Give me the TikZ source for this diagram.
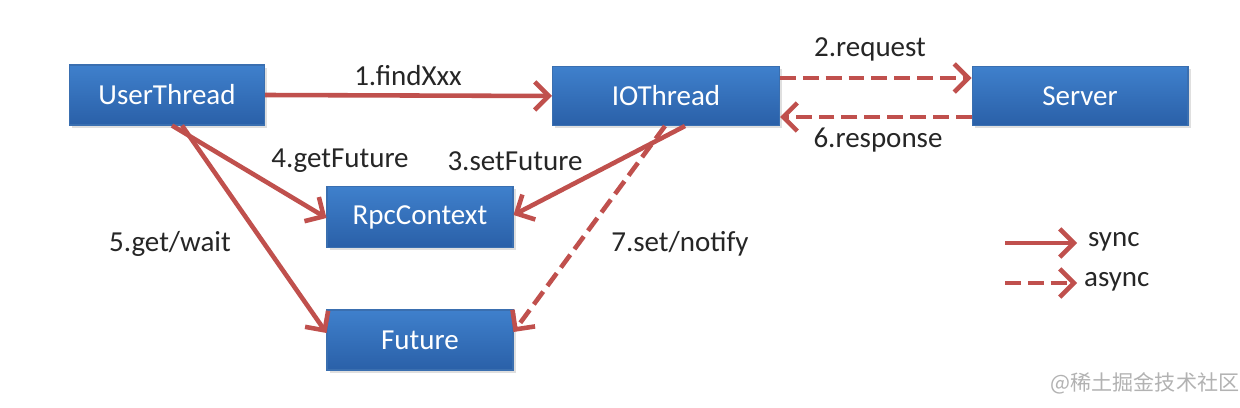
\documentclass[tikz,border=0pt]{standalone}
\usepackage{fontspec}
\setmainfont{Carlito}
\newfontfamily\cjk{Noto Sans CJK SC}
\usetikzlibrary{arrows.meta,shadows}

\definecolor{boxtop}{HTML}{3F80CC}
\definecolor{boxbot}{HTML}{2A60A8}
\definecolor{boxline}{HTML}{3A6FB0}
\definecolor{arrowred}{HTML}{C0504D}
\definecolor{labelgray}{HTML}{262626}

\tikzset{
  thread/.style={draw=boxline,line width=0.6pt,top color=boxtop,bottom color=boxbot,
    text=white,font=\fontsize{16.5}{18}\selectfont,inner sep=0pt,
    drop shadow={opacity=0.25,shadow xshift=1.5pt,shadow yshift=-1.5pt}},
  sync/.style={draw=arrowred,line width=2.6pt,-{Straight Barb[length=8pt,width=16pt,line width=2.6pt]}},
  async/.style={sync,dash pattern=on 9pt off 4pt},
  lbl/.style={text=labelgray,font=\fontsize{16.5}{18}\selectfont,inner sep=1pt}
}

\begin{document}
\begin{tikzpicture}[x=0.02cm,y=-0.02cm]
\useasboundingbox[fill=white] (0,0) rectangle (1240,408);
% Boxes
\node[thread,minimum width=3.9cm,minimum height=1.2cm] (user) at (167,95) {UserThread};
\node[thread,minimum width=4.54cm,minimum height=1.18cm] (io) at (666,96) {IOThread};
\node[thread,minimum width=4.32cm,minimum height=1.18cm] (server) at (1080,96) {Server};
\node[thread,minimum width=3.72cm,minimum height=1.22cm] (rpc) at (420,217) {RpcContext};
\node[thread,minimum width=3.72cm,minimum height=1.2cm] (future) at (420,340) {Future};
% Calls
\draw[sync] (user.east) -- (io.west);
\draw[async] ([yshift=0.36cm]io.east) -- ([yshift=0.36cm]server.west);
\draw[async] ([yshift=-0.42cm]server.west) -- ([yshift=-0.42cm]io.east);
\draw[sync] ([xshift=0.1cm]user.south) -- ([yshift=-0.02cm]rpc.west);
\draw[sync] ([xshift=0.3cm]user.south) -- ([yshift=0.14cm]future.west);
\draw[sync] ([xshift=0.38cm]io.south) -- ([yshift=0.04cm]rpc.east);
\draw[async] ([xshift=-0.02cm]io.south) -- ([yshift=0.16cm]future.east);
% Labels
\node[lbl] (l1) at (408,76) {1.findXxx};
\node[lbl] (l2) at (870,49) {2.request};
\node[lbl] (l3) at (515,161) {3.setFuture};
\node[lbl] (l4) at (340,161) {4.getFuture};
\node[lbl] (l5) at (170,244) {5.get/wait};
\node[lbl] (l6) at (878,140) {6.response};
\node[lbl] (l7) at (680,244) {7.set/notify};
% Legend
\coordinate (s1) at (1005,243);
\coordinate (s2) at (1077,243);
\coordinate (a1) at (1005,283);
\coordinate (a2) at (1077,283);
\draw[sync] (s1) -- (s2);
\draw[async] (a1) -- (a2);
\node[lbl,anchor=west] (syncl) at (1086,242) {sync};
\node[lbl,anchor=west] (asyncl) at (1082,282) {async};
% Watermark
\node[text=gray!60,font=\cjk\fontsize{12}{14}\selectfont,inner sep=0pt] (mark) at (1145,383) {@稀土掘金技术社区};
\end{tikzpicture}
\end{document}
